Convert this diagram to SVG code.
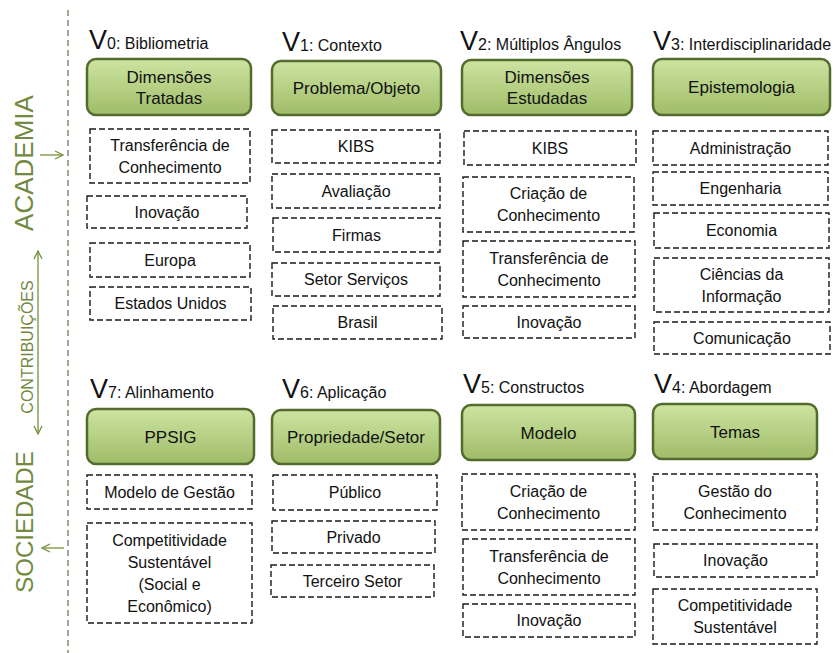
<svg xmlns="http://www.w3.org/2000/svg" width="840" height="653" viewBox="0 0 840 653">
  <defs>
    <linearGradient id="greenFill" x1="0" y1="0" x2="0" y2="1">
      <stop offset="0" stop-color="#cde4a1"/>
      <stop offset="1" stop-color="#9fbc68"/>
    </linearGradient>
    <marker id="chevron" viewBox="0 0 10 10" refX="9" refY="5" markerWidth="10" markerHeight="10" markerUnits="userSpaceOnUse" orient="auto-start-reverse">
      <path d="M1,1 L9,5 L1,9" fill="none" stroke="#76923c" stroke-width="1.3"/>
    </marker>
  </defs>
  <style>
    text { font-family: "Liberation Sans", Arial, sans-serif; fill: #111; }
    .hdr { fill: url(#greenFill); stroke: #536b2c; stroke-width: 2.5; }
    .hdr-t { font-size: 17px; text-anchor: middle; }
    .box { fill: #fff; stroke: #1a1a1a; stroke-width: 1.4; stroke-dasharray: 6 3; }
    .box-t { font-size: 16px; text-anchor: middle; }
    .title { font-size: 16px; }
    .big { font-size: 27px; }
    .side { fill: #72893f; text-anchor: middle; }
    .arrow { stroke: #76923c; stroke-width: 1.3; fill: none; }
    .divider { stroke: #8c9178; stroke-width: 1.6; stroke-dasharray: 6 4; fill: none; }
  </style>
  <rect width="840" height="653" fill="#fff"/>

  <!-- side labels and divider -->
  <g id="side">
    <line class="divider" x1="68" y1="10" x2="68" y2="653"/>
    <text class="side" font-size="26" transform="translate(33,163) rotate(-90)">ACADEMIA</text>
    <text class="side" font-size="16" transform="translate(33,347) rotate(-90)">CONTRIBUIÇÕES</text>
    <text class="side" font-size="24" transform="translate(33,522) rotate(-90)">SOCIEDADE</text>
  </g>

  <g id="connectors">
    <line class="arrow" x1="40" y1="155" x2="63" y2="155" marker-end="url(#chevron)"/>
    <line class="arrow" x1="38" y1="251" x2="38" y2="434" marker-start="url(#chevron)" marker-end="url(#chevron)"/>
    <line class="arrow" x1="64" y1="548" x2="42" y2="548" marker-end="url(#chevron)"/>
  </g>

  <!-- V0 -->
  <g id="v0">
    <text class="title" x="89" y="49"><tspan class="big">V</tspan><tspan>0: Bibliometria</tspan></text>
    <rect class="hdr" x="87" y="59" width="164" height="56" rx="9"/>
    <text class="hdr-t" x="169" y="82.5">Dimensões</text>
    <text class="hdr-t" x="169" y="103.5">Tratadas</text>
    <rect class="box" x="90" y="129" width="160" height="54"/>
    <text class="box-t" x="170" y="150.5">Transferência de</text>
    <text class="box-t" x="170" y="172.5">Conhecimento</text>
    <rect class="box" x="87" y="196" width="160" height="32"/>
    <text class="box-t" x="167" y="217.5">Inovação</text>
    <rect class="box" x="90" y="243" width="160" height="34"/>
    <text class="box-t" x="170" y="265.5">Europa</text>
    <rect class="box" x="90" y="287" width="161" height="33"/>
    <text class="box-t" x="170.5" y="309">Estados Unidos</text>
  </g>

  <!-- V1 -->
  <g id="v1">
    <text class="title" x="282" y="51"><tspan class="big">V</tspan><tspan>1: Contexto</tspan></text>
    <rect class="hdr" x="272" y="61" width="169" height="54" rx="9"/>
    <text class="hdr-t" x="356.5" y="94">Problema/Objeto</text>
    <rect class="box" x="272" y="130" width="168" height="33"/>
    <text class="box-t" x="356" y="152">KIBS</text>
    <rect class="box" x="272" y="174" width="168" height="34"/>
    <text class="box-t" x="356" y="196.5">Avaliação</text>
    <rect class="box" x="273" y="218" width="167" height="34"/>
    <text class="box-t" x="356.5" y="240.5">Firmas</text>
    <rect class="box" x="272" y="263" width="168" height="33"/>
    <text class="box-t" x="356" y="285">Setor Serviços</text>
    <rect class="box" x="273" y="306" width="169" height="33"/>
    <text class="box-t" x="357.5" y="328">Brasil</text>
  </g>

  <!-- V2 -->
  <g id="v2">
    <text class="title" x="460" y="50"><tspan class="big">V</tspan><tspan>2: Múltiplos Ângulos</tspan></text>
    <rect class="hdr" x="462" y="60" width="170" height="55" rx="9"/>
    <text class="hdr-t" x="547" y="83">Dimensões</text>
    <text class="hdr-t" x="547" y="104">Estudadas</text>
    <rect class="box" x="464" y="131" width="172" height="34"/>
    <text class="box-t" x="550" y="153.5">KIBS</text>
    <rect class="box" x="463" y="177" width="171" height="55"/>
    <text class="box-t" x="548.5" y="199">Criação de</text>
    <text class="box-t" x="548.5" y="221">Conhecimento</text>
    <rect class="box" x="463" y="241" width="172" height="56"/>
    <text class="box-t" x="549" y="263.5">Transferência de</text>
    <text class="box-t" x="549" y="285.5">Conhecimento</text>
    <rect class="box" x="463" y="306" width="172" height="32"/>
    <text class="box-t" x="549" y="327.5">Inovação</text>
  </g>

  <!-- V3 -->
  <g id="v3">
    <text class="title" x="653" y="50"><tspan class="big">V</tspan><tspan>3: Interdisciplinaridade</tspan></text>
    <rect class="hdr" x="653" y="59" width="177" height="56" rx="9"/>
    <text class="hdr-t" x="741.5" y="93">Epistemologia</text>
    <rect class="box" x="653" y="131" width="175" height="34"/>
    <text class="box-t" x="740.5" y="153.5">Administração</text>
    <rect class="box" x="653" y="172" width="175" height="33"/>
    <text class="box-t" x="740.5" y="194">Engenharia</text>
    <rect class="box" x="654" y="213" width="175" height="35"/>
    <text class="box-t" x="741.5" y="236">Economia</text>
    <rect class="box" x="654" y="258" width="175" height="54"/>
    <text class="box-t" x="741.5" y="279.5">Ciências da</text>
    <text class="box-t" x="741.5" y="301.5">Informação</text>
    <rect class="box" x="654" y="322" width="176" height="32"/>
    <text class="box-t" x="742" y="343.5">Comunicação</text>
  </g>

  <!-- V7 -->
  <g id="v7">
    <text class="title" x="90" y="398"><tspan class="big">V</tspan><tspan>7: Alinhamento</tspan></text>
    <rect class="hdr" x="87" y="409" width="167" height="55" rx="9"/>
    <text class="hdr-t" x="170.5" y="442.5">PPSIG</text>
    <rect class="box" x="87" y="475" width="165" height="34"/>
    <text class="box-t" x="169.5" y="497.5">Modelo de Gestão</text>
    <rect class="box" x="87" y="523" width="165" height="100"/>
    <text class="box-t" x="169.5" y="545.5">Competitividade</text>
    <text class="box-t" x="169.5" y="567.5">Sustentável</text>
    <text class="box-t" x="169.5" y="589.5">(Social e</text>
    <text class="box-t" x="169.5" y="611.5">Econômico)</text>
  </g>

  <!-- V6 -->
  <g id="v6">
    <text class="title" x="282" y="398"><tspan class="big">V</tspan><tspan>6: Aplicação</tspan></text>
    <rect class="hdr" x="272" y="410" width="168" height="54" rx="9"/>
    <text class="hdr-t" x="356" y="443">Propriedade/Setor</text>
    <rect class="box" x="273" y="475" width="164" height="35"/>
    <text class="box-t" x="355" y="498">Público</text>
    <rect class="box" x="272" y="521" width="163" height="32"/>
    <text class="box-t" x="353.5" y="542.5">Privado</text>
    <rect class="box" x="271" y="565" width="163" height="32"/>
    <text class="box-t" x="352.5" y="586.5">Terceiro Setor</text>
  </g>

  <!-- V5 -->
  <g id="v5">
    <text class="title" x="463" y="393"><tspan class="big">V</tspan><tspan>5: Constructos</tspan></text>
    <rect class="hdr" x="462" y="405" width="173" height="55" rx="9"/>
    <text class="hdr-t" x="548.5" y="438.5">Modelo</text>
    <rect class="box" x="462" y="474" width="173" height="56"/>
    <text class="box-t" x="548.5" y="496.5">Criação de</text>
    <text class="box-t" x="548.5" y="518.5">Conhecimento</text>
    <rect class="box" x="463" y="539" width="172" height="56"/>
    <text class="box-t" x="549" y="561.5">Transferência de</text>
    <text class="box-t" x="549" y="583.5">Conhecimento</text>
    <rect class="box" x="463" y="604" width="172" height="33"/>
    <text class="box-t" x="549" y="626">Inovação</text>
  </g>

  <!-- V4 -->
  <g id="v4">
    <text class="title" x="654" y="393"><tspan class="big">V</tspan><tspan>4: Abordagem</tspan></text>
    <rect class="hdr" x="653" y="404" width="164" height="55" rx="9"/>
    <text class="hdr-t" x="735" y="437.5">Temas</text>
    <rect class="box" x="653" y="474" width="164" height="56"/>
    <text class="box-t" x="735" y="496.5">Gestão do</text>
    <text class="box-t" x="735" y="518.5">Conhecimento</text>
    <rect class="box" x="654" y="544" width="163" height="33"/>
    <text class="box-t" x="735.5" y="566">Inovação</text>
    <rect class="box" x="653" y="589" width="164" height="55"/>
    <text class="box-t" x="735" y="611">Competitividade</text>
    <text class="box-t" x="735" y="633">Sustentável</text>
  </g>
</svg>
